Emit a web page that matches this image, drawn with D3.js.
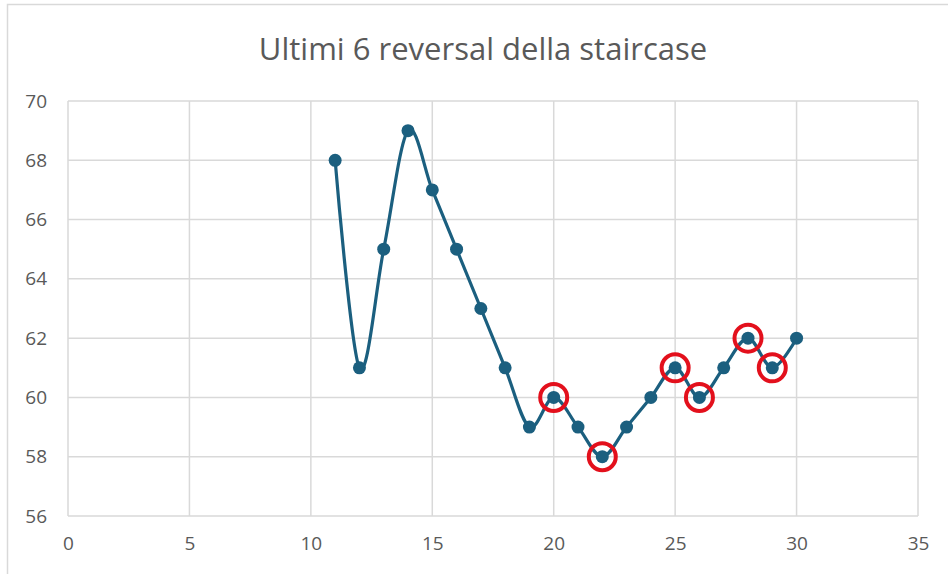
<!DOCTYPE html>
<html>
<head>
<meta charset="utf-8">
<script src="https://cdn.jsdelivr.net/npm/d3@7"></script>
<style>
  html, body { margin: 0; padding: 0; background: #fff; }
  svg { display: block; }
</style>
</head>
<body>
<svg id="chart" width="948" height="574"></svg>
<script>
// Staircase trials and the level reached at each one
const trials = [11, 12, 13, 14, 15, 16, 17, 18, 19, 20, 21, 22, 23, 24, 25, 26, 27, 28, 29, 30];
const levels = [68, 61, 65, 69, 67, 65, 63, 61, 59, 60, 59, 58, 59, 60, 61, 60, 61, 62, 61, 62];
// Trials marked as the last six reversals
const reversalTrials = [20, 22, 25, 26, 28, 29];
const xTicks = [0, 5, 10, 15, 20, 25, 30, 35];
const yTicks = [56, 58, 60, 62, 64, 66, 68, 70];
const title = "Ultimi 6 reversal della staircase";

const svg = d3.select("#chart");
const W = 948, H = 574;
const plot = { left: 68, right: 918, top: 101, bottom: 516 };

const font = "'Open Sans', 'Noto Sans', sans-serif";
const textColor = "#595959";
const gridColor = "#d9d9d9";
const lineColor = "#1b5f7f";
const ringColor = "#e3101c";

// Chart frame
svg.append("rect")
  .attr("x", 7.5).attr("y", 4.5)
  .attr("width", W + 10).attr("height", H + 10)
  .attr("fill", "#fff").attr("stroke", "#d9d9d9").attr("stroke-width", 1.5);

const x = d3.scaleLinear().domain([0, 35]).range([plot.left, plot.right]);
const y = d3.scaleLinear().domain([56, 70]).range([plot.bottom, plot.top]);

// Gridlines
const grid = svg.append("g");
grid.selectAll(".vg").data(xTicks).join("line")
  .attr("x1", d => x(d)).attr("x2", d => x(d))
  .attr("y1", plot.top).attr("y2", plot.bottom)
  .attr("stroke", gridColor).attr("stroke-width", 1.5);
grid.selectAll(".hg").data(yTicks).join("line")
  .attr("x1", plot.left).attr("x2", plot.right)
  .attr("y1", d => y(d)).attr("y2", d => y(d))
  .attr("stroke", gridColor).attr("stroke-width", 1.5);

// Axes (labels only; lines come from the grid)
const xAxis = svg.append("g")
  .attr("transform", `translate(0,${plot.bottom})`)
  .call(d3.axisBottom(x).tickValues(xTicks).tickSize(0).tickPadding(21));
const yAxis = svg.append("g")
  .attr("transform", `translate(${plot.left},0)`)
  .call(d3.axisLeft(y).tickValues(yTicks).tickSize(0).tickPadding(21));
[xAxis, yAxis].forEach(g => {
  g.select(".domain").remove();
  g.selectAll("text")
    .attr("fill", textColor)
    .style("font-family", font)
    .style("font-size", "19px");
});

// Title
svg.append("text")
  .attr("x", 483).attr("y", 60)
  .attr("text-anchor", "middle")
  .attr("fill", textColor)
  .style("font-family", font)
  .style("font-size", "31px")
  .text(title);

// Smoothed series line
const data = trials.map((t, i) => ({ t, v: levels[i] }));
const line = d3.line()
  .x(d => x(d.t)).y(d => y(d.v))
  .curve(d3.curveCardinal.tension(0));
svg.append("path")
  .datum(data)
  .attr("d", line)
  .attr("fill", "none")
  .attr("stroke", lineColor)
  .attr("stroke-width", 3.2);

// Markers
svg.append("g").selectAll("circle").data(data).join("circle")
  .attr("cx", d => x(d.t)).attr("cy", d => y(d.v))
  .attr("r", 6.5)
  .attr("fill", lineColor);

// Reversal rings
const reversals = data.filter(d => reversalTrials.includes(d.t));
svg.append("g").selectAll("circle").data(reversals).join("circle")
  .attr("cx", d => x(d.t)).attr("cy", d => y(d.v))
  .attr("r", 13.5)
  .attr("fill", "none")
  .attr("stroke", ringColor)
  .attr("stroke-width", 4);
</script>
</body>
</html>
